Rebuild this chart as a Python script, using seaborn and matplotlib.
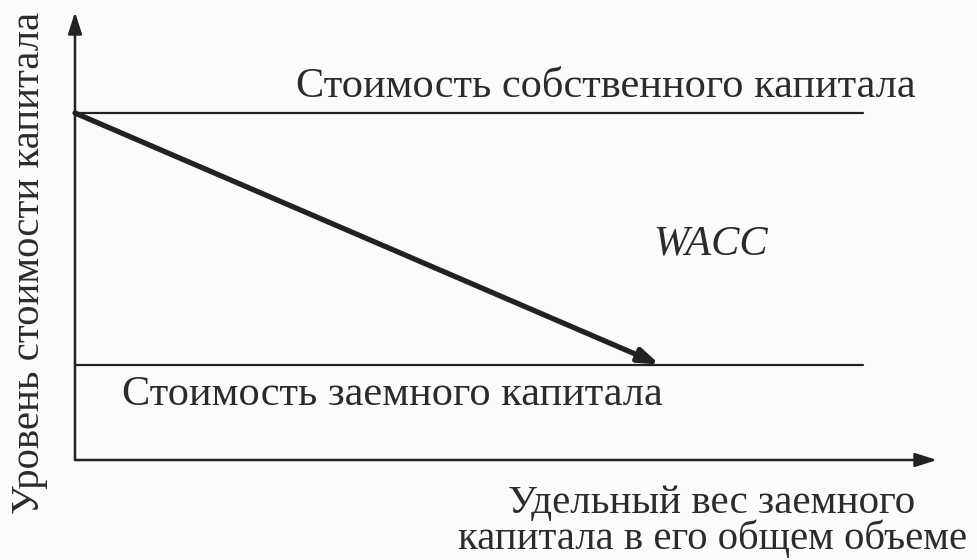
import numpy as np
import pandas as pd
import matplotlib
matplotlib.use("Agg")
import matplotlib.pyplot as plt
import seaborn as sns

# доля заемного капитала (0..1) и уровни стоимости капитала, %
debt_share = [0.0, 1.0]
equity_cost = [20.0, 20.0]
debt_cost = [5.5, 5.5]
wacc_share = [0.0, 0.742]
wacc_cost = [20.0, 5.5]

label_equity = "Стоимость собственного капитала"
label_debt = "Стоимость заемного капитала"
label_wacc = "WACC"
xlabel_lines = ["Удельный вес заемного", "капитала в его общем объеме"]
ylabel = "Уровень стоимости капитала"

sns.set_theme(style="white")
plt.rcParams["font.family"] = ["Liberation Serif", "DejaVu Serif"]

ink = "#222222"
txt = "#2b2b2b"
W, H = 978, 560

fig = plt.figure(figsize=(9.78, 5.6), dpi=100, facecolor="#fbfbfb")
ax = fig.add_axes([75 / W, 100 / H, 862 / W, 448 / H])
ax.set_facecolor("#fbfbfb")

df_eq = pd.DataFrame({"x": debt_share, "y": equity_cost})
df_dc = pd.DataFrame({"x": debt_share, "y": debt_cost})
sns.lineplot(data=df_eq, x="x", y="y", ax=ax, color=ink, lw=1.6)
sns.lineplot(data=df_dc, x="x", y="y", ax=ax, color=ink, lw=1.6)

ax.set_xlim(0, 862 / 788)
ax.set_ylim(0, 448 / 347 * 20)

# WACC со стрелкой
ax.annotate("", xy=(wacc_share[1], wacc_cost[1]), xytext=(wacc_share[0], wacc_cost[0]),
            arrowprops=dict(arrowstyle="-|>,head_length=1.0,head_width=0.35",
                            color=ink, lw=3.8, shrinkA=0, shrinkB=0))

# оси со стрелками
ax.annotate("", xy=(1, 0), xytext=(0, 0), xycoords="axes fraction",
            arrowprops=dict(arrowstyle="-|>,head_length=1.1,head_width=0.35",
                            color=ink, lw=1.8, shrinkA=0, shrinkB=0))
ax.annotate("", xy=(0, 1), xytext=(0, 0), xycoords="axes fraction",
            arrowprops=dict(arrowstyle="-|>,head_length=1.1,head_width=0.35",
                            color=ink, lw=1.8, shrinkA=0, shrinkB=0))

for s in ax.spines.values():
    s.set_visible(False)
ax.set_xticks([])
ax.set_yticks([])
ax.set_xlabel("")
ax.set_ylabel("")

fs = 30.5


def put(px, py, s, size=fs, **kw):
    fig.text(px / W, 1 - py / H, s, fontsize=size, color=txt, va="baseline", **kw)


put(916, 97, label_equity, ha="right")
put(122, 405, label_debt, ha="left")
put(653, 255, label_wacc, ha="left", style="italic")
put(915, 513, xlabel_lines[0], size=29.5, ha="right")
put(458, 549, xlabel_lines[1], size=29.3, ha="left")
put(39, 514, ylabel, size=29.3, ha="left", rotation=90, rotation_mode="anchor")

fig.savefig("out.png", dpi=100, facecolor=fig.get_facecolor())
